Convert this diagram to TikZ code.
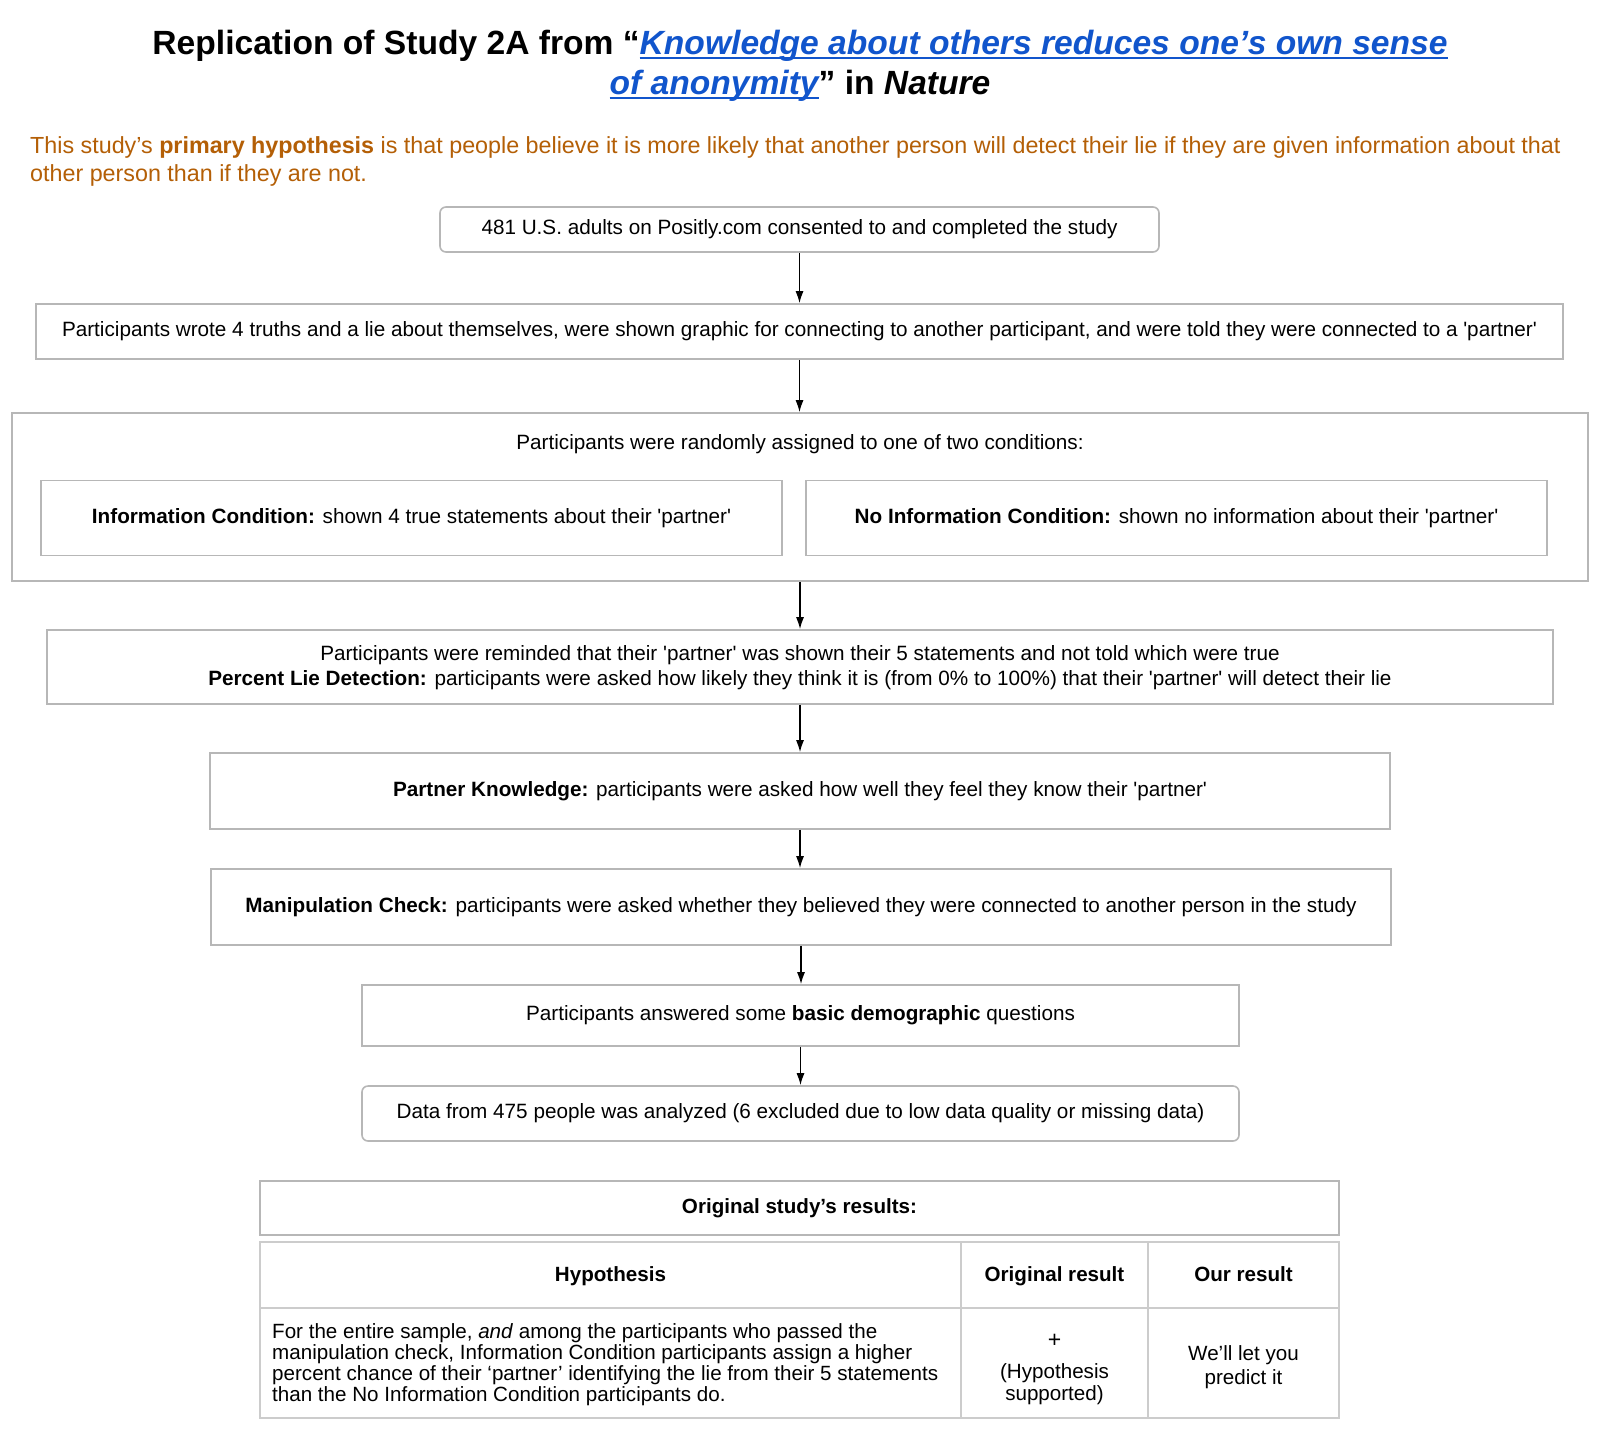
\documentclass[tikz,border=0pt]{standalone}
\usepackage{fontspec}
\setmainfont{Liberation Sans}
\usetikzlibrary{arrows.meta}
\definecolor{boxgray}{HTML}{B7B7B7}
\definecolor{tabgray}{HTML}{CCCCCC}
\definecolor{hypo}{HTML}{B45F06}
\definecolor{linkblue}{HTML}{1155CC}
\newcommand\myul[1]{\setbox0\hbox{#1}\rlap{\rule[-4.5pt]{\wd0}{2.2pt}}\box0}
\newcommand\sq{\textquotesingle}
\tikzset{
  box/.style={draw=boxgray, line width=1.6pt, fill=white, inner sep=0pt, align=center, font=\fontsize{20.7}{25}\selectfont},
  one/.style={text height=0.716em+3pt, text depth=0pt},
  rbox/.style={box, rounded corners=6pt},
  plain/.style={inner sep=0pt, align=center, font=\fontsize{20.7}{25}\selectfont},
  tab/.style={draw=tabgray, line width=1.3pt},
  cell/.style={inner sep=0pt, align=center, font=\fontsize{20.6}{22}\selectfont},
  arr/.style={-{Latex[length=12pt,width=8pt]}, line width=1.5pt, black},
}
\begin{document}
\begin{tikzpicture}[x=1pt,y=-1pt]
\useasboundingbox (0,0) rectangle (1600,1449);
\fill[white] (0,0) rectangle (1600,1449);

% title
\node[inner sep=0pt, align=center, font=\fontsize{33.6}{40}\selectfont\bfseries] (title) at (800,66)
  {Replication of Study 2A from “{\color{linkblue}\itshape\myul{Knowledge about others reduces one’s own sense}}\\
   {\color{linkblue}\itshape\myul{of anonymity}}” in \textit{Nature}};

% hypothesis
\node[inner sep=0pt, anchor=north west, align=left, text=hypo, font=\fontsize{23.3}{28.5}\selectfont] (hyp) at (30,136)
  {This study’s \textbf{primary hypothesis} is that people believe it is more likely that another person will detect their lie if they are given information about that\\
   other person than if they are not.};

% boxes
\node[rbox, one, minimum width=719pt, minimum height=45pt] (b1) at (799.5,229.5)
  {481 U.S. adults on Positly.com consented to and completed the study};
\node[box, one, minimum width=1527pt, minimum height=55pt] (b2) at (799.5,331.5)
  {Participants wrote 4 truths and a lie about themselves, were shown graphic for connecting to another participant, and were told they were connected to a \sq partner\sq};
\node[box, minimum width=1576pt, minimum height=168pt] (b3) at (800,497) {};
\node[plain, one] (t3) at (800,444) {Participants were randomly assigned to one of two conditions:};
\node[box, one, minimum width=741pt, minimum height=75pt] (c1) at (411.5,518)
  {\textbf{Information Condition:} shown 4 true statements about their \sq partner\sq};
\node[box, one, minimum width=741pt, minimum height=75pt] (c2) at (1176.5,518)
  {\textbf{No Information Condition:} shown no information about their \sq partner\sq};
\node[box, minimum width=1506pt, minimum height=74pt] (b4) at (800,667)
  {\rule{0pt}{17pt}Participants were reminded that their \sq partner\sq\ was shown their 5 statements and not told which were true\\
   \textbf{Percent Lie Detection:} participants were asked how likely they think it is (from 0\% to 100\%) that their \sq partner\sq\ will detect their lie};
\node[box, one, minimum width=1180pt, minimum height=76pt] (b5) at (800,791)
  {\textbf{Partner Knowledge:} participants were asked how well they feel they know their \sq partner\sq};
\node[box, one, minimum width=1180pt, minimum height=76pt] (b6) at (801,907)
  {\textbf{Manipulation Check:} participants were asked whether they believed they were connected to another person in the study};
\node[box, one, minimum width=877pt, minimum height=61pt] (b7) at (800.5,1015.5)
  {Participants answered some \textbf{basic demographic} questions};
\node[rbox, one, minimum width=877pt, minimum height=55pt] (b8) at (800.5,1113.5)
  {Data from 475 people was analyzed (6 excluded due to low data quality or missing data)};

% arrows
\draw[arr] (b1.south) -- (b1.south |- b2.north);
\draw[arr] (b2.south) -- (b2.south |- b3.north);
\draw[arr] (b3.south) -- (b3.south |- b4.north);
\draw[arr] (b4.south) -- (b4.south |- b5.north);
\draw[arr] (b5.south) -- (b5.south |- b6.north);
\draw[arr] (b6.south) -- (b6.south |- b7.north);
\draw[arr] (b7.south) -- (b7.south |- b8.north);

% results title
\node[box, one, minimum width=1079pt, minimum height=54pt, font=\fontsize{20.6}{24}\selectfont\bfseries] (rt) at (799.5,1208)
  {Original study’s results:};

% table
\draw[tab] (260,1242) rectangle (1339,1418);
\draw[tab] (260,1308) -- (1339,1308);
\draw[tab] (961,1242) -- (961,1418);
\draw[tab] (1148,1242) -- (1148,1418);

\node[cell, one, font=\fontsize{20.6}{24}\selectfont\bfseries] (h1) at (610.5,1276) {Hypothesis};
\node[cell, one, font=\fontsize{20.6}{24}\selectfont\bfseries] (h2) at (1054.5,1276) {Original result};
\node[cell, one, font=\fontsize{20.6}{24}\selectfont\bfseries] (h3) at (1243.5,1276) {Our result};

\node[cell, anchor=west, align=left, font=\fontsize{20.6}{21}\selectfont] (d1) at (272,1365)
  {For the entire sample, \textit{and} among the participants who passed the\\
   manipulation check, Information Condition participants assign a higher\\
   percent chance of their ‘partner’ identifying the lie from their 5 statements\\
   than the No Information Condition participants do.};
\node[cell] (d2) at (1054.5,1369)
  {{\fontsize{23}{22}\selectfont +}\\[9pt](Hypothesis\\supported)};
\node[cell, font=\fontsize{20.6}{24}\selectfont] (d3) at (1243.5,1367)
  {We’ll let you\\predict it};
\end{tikzpicture}
\end{document}
